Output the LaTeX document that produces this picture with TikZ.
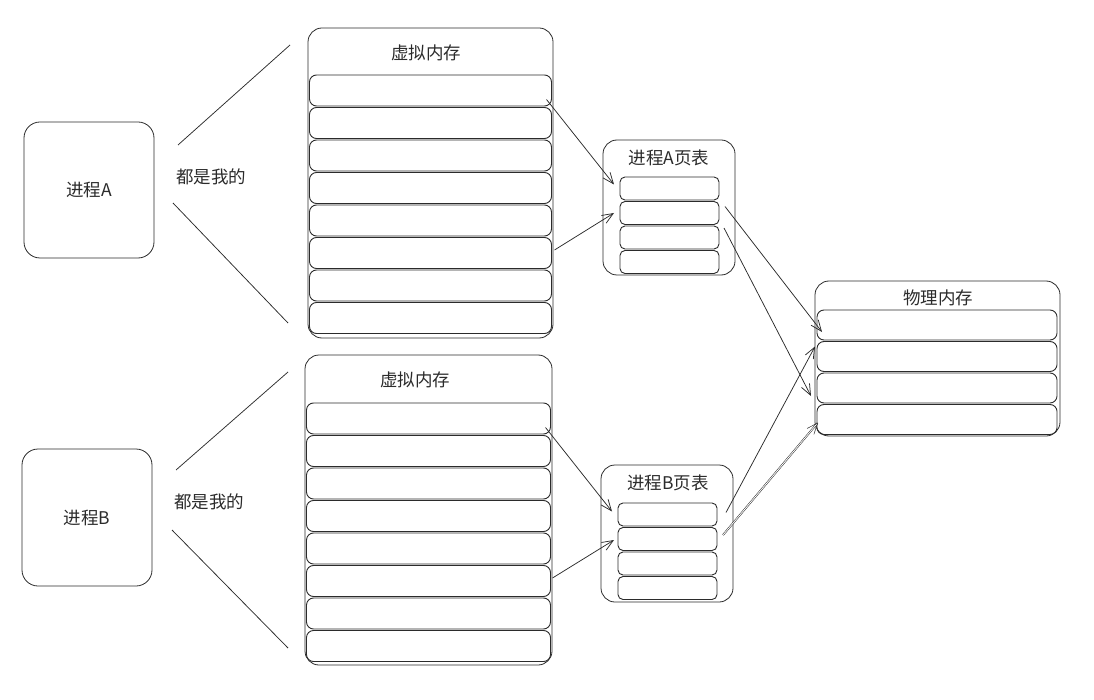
\documentclass[tikz,border=0pt]{standalone}
\usepackage{fontspec}
\setmainfont{Noto Sans CJK SC}
\usetikzlibrary{arrows.meta,calc}
\definecolor{ink}{HTML}{2B2B2B}
\begin{document}
\begin{tikzpicture}[x=1pt,y=-1pt,
  every node/.style={inner sep=0pt,outer sep=0pt},
  proc/.style={draw=ink,line width=0.8pt,rounded corners=16pt,minimum width=130pt,minimum height=136pt},
  frame/.style={draw=ink,line width=0.8pt,rounded corners=14pt},
  cell/.style={draw=ink,line width=0.9pt,rounded corners=7pt},
  lbl/.style={text=ink,font=\fontsize{17.5}{19}\selectfont},
  ln/.style={draw=ink,line width=0.75pt},
  arr/.style={draw=ink,line width=0.75pt,-{Straight Barb[length=11pt,width=9pt]}}]
\useasboundingbox (0,0) rectangle (1094,700);
% processes
\node[proc] (procA) at (89,190) {};
\node[lbl] at (procA) {进程A};
\node[proc,minimum height=137pt] (procB) at (87,517.5) {};
\node[lbl] at (procB) {进程B};
\node[lbl] (ownA) at (211,177) {都是我的};
\node[lbl] (ownB) at (209,502) {都是我的};
% virtual memory A
\node[frame,minimum width=245pt,minimum height=310pt] (vmA) at (430.5,183) {};
\node[lbl] at (426,53) {虚拟内存};
\foreach \i in {1,...,8}{
  \node[cell,minimum width=242pt,minimum height=31pt] (va\i) at (430.5,{75+32.5*(\i-1)+15.5}) {};
}
% virtual memory B
\node[frame,minimum width=247pt,minimum height=310pt] (vmB) at (428.5,510) {};
\node[lbl] at (415,380) {虚拟内存};
\foreach \i in {1,...,8}{
  \node[cell,minimum width=244pt,minimum height=31pt] (vb\i) at (428.5,{403+32.5*(\i-1)+15.5}) {};
}
% page table A
\node[frame,minimum width=132pt,minimum height=135pt] (ptA) at (669,207.5) {};
\node[lbl] at (669,158) {进程A页表};
\foreach \i in {1,...,4}{
  \node[cell,rounded corners=5pt,minimum width=99pt,minimum height=23pt] (ta\i) at (669.5,{177+24.5*(\i-1)+11.5}) {};
}
% page table B
\node[frame,minimum width=132pt,minimum height=137pt] (ptB) at (667,533.5) {};
\node[lbl] at (668,483) {进程B页表};
\foreach \i in {1,...,4}{
  \node[cell,rounded corners=5pt,minimum width=99pt,minimum height=23pt] (tb\i) at (667.5,{503+24.5*(\i-1)+11.5}) {};
}
% physical memory
\node[frame,minimum width=245pt,minimum height=155pt] (phys) at (937.5,358.5) {};
\node[lbl] at (938,298) {物理内存};
\foreach \i in {1,...,4}{
  \node[cell,minimum width=240pt,minimum height=30pt] (ph\i) at (937,{310+31.5*(\i-1)+15}) {};
}
% fan lines from each process to its address space
\coordinate (a1s) at (178,145); \coordinate (a1e) at (290,45);
\coordinate (a2s) at (173,203); \coordinate (a2e) at (288,323);
\coordinate (b1s) at (176,470); \coordinate (b1e) at (288,372);
\coordinate (b2s) at (172,530); \coordinate (b2e) at (288,648);
\draw[ln] (a1s) -- (a1e);
\draw[ln] (a2s) -- (a2e);
\draw[ln] (b1s) -- (b1e);
\draw[ln] (b2s) -- (b2e);
% virtual pages -> page table entries
\draw[arr] ([xshift=-5pt,yshift=-9pt]va1.east) -- ([xshift=-6pt,yshift=4pt]ta1.west);
\draw[arr] ([xshift=3pt,yshift=3pt]va6.east) -- ([xshift=-6pt]ta2.west);
\draw[arr] ([xshift=-5pt,yshift=-9pt]vb1.east) -- ([xshift=-6pt,yshift=3pt]tb1.west);
\draw[arr] ([xshift=2pt,yshift=3pt]vb6.east) -- ([xshift=-4pt,yshift=-1pt]tb2.west);
% page table entries -> physical frames
\draw[arr] ([xshift=6pt,yshift=-5pt]ta2.north east) -- ([xshift=5pt,yshift=-7pt]ph1.west);
\draw[arr] ([xshift=5pt,yshift=-2pt]ta3.north east) -- ([xshift=-6pt,yshift=-8pt]ph3.west);
\draw[arr] ([xshift=9pt,yshift=2pt]tb1.east) -- ([xshift=-2pt,yshift=10pt]ph2.west);
\draw[arr,double=white,double distance=0.8pt,line width=0.5pt] ([xshift=6pt,yshift=4pt]tb2.east) -- ([xshift=1pt,yshift=-3pt]ph4.west);
\end{tikzpicture}
\end{document}
